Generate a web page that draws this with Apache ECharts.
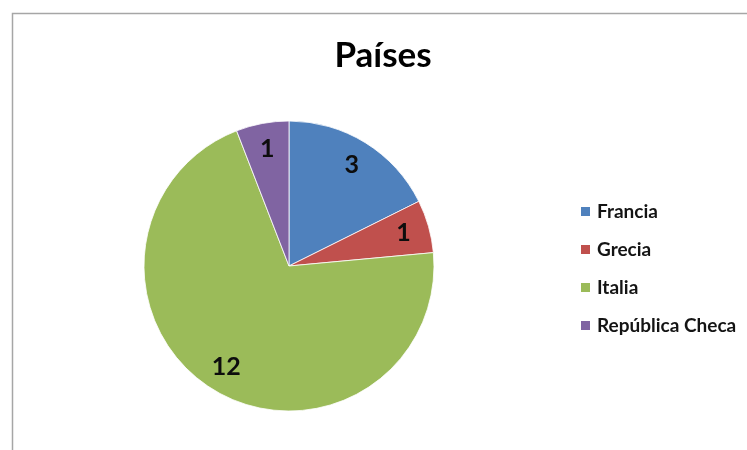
<!DOCTYPE html>
<html>
<head>
<meta charset="utf-8">
<script src="https://cdn.jsdelivr.net/npm/echarts@6/dist/echarts.min.js"></script>
<style>html,body{margin:0;padding:0;background:#fff;}#c{width:747px;height:450px;}</style>
</head>
<body>
<div id="c"></div>
<script>
const categories = ['Francia', 'Grecia', 'Italia', 'República Checa'];
const values = [3, 1, 12, 1];
const colors = ['#4F81BD', '#C0504D', '#9BBB59', '#8064A2'];
const titleText = 'Países';

const FONT = 'Lato';
const chart = echarts.init(document.getElementById('c'), null, {renderer: 'canvas'});
const pieData = categories.map((n, i) => ({name: n, value: values[i], itemStyle: {color: colors[i]}}));
chart.setOption({
  animation: false,
  backgroundColor: '#ffffff',
  graphic: [{
    type: 'rect', left: 10, top: 11, shape: {width: 800, height: 500},
    style: {fill: 'none', stroke: '#a6a6a6', lineWidth: 1.5}, silent: true
  }],
  title: {
    text: titleText, left: 378, top: 33, textAlign: 'center',
    textStyle: {fontFamily: FONT, fontWeight: 'bold', fontSize: 35, color: '#000'}
  },
  legend: {
    orient: 'vertical', left: 579, top: 201, itemGap: 17, padding: 0,
    itemWidth: 11, itemHeight: 11, icon: 'rect',
    data: categories,
    textStyle: {fontFamily: FONT, fontWeight: 'bold', fontSize: 19, lineHeight: 21, color: '#141414', padding: [0, 0, 0, 1]}
  },
  series: [{
    type: 'pie', center: [289, 266], radius: [0, 145], startAngle: 90, clockwise: true,
    data: pieData,
    label: {show: false}, labelLine: {show: false},
    itemStyle: {borderColor: '#ffffff', borderWidth: 0.8}
  }, {
    type: 'pie', center: [289, 266], radius: [87, 145], startAngle: 90, clockwise: true,
    silent: true, legendHoverLink: false,
    data: categories.map((n, i) => ({name: n + ' ', value: values[i]})),
    itemStyle: {color: 'rgba(0,0,0,0)'},
    label: {show: true, position: 'inside', formatter: '{c}',
      fontFamily: FONT, fontWeight: 'bold', fontSize: 25, color: '#0d0d0d'},
    labelLine: {show: false}
  }]
});
</script>
</body>
</html>
